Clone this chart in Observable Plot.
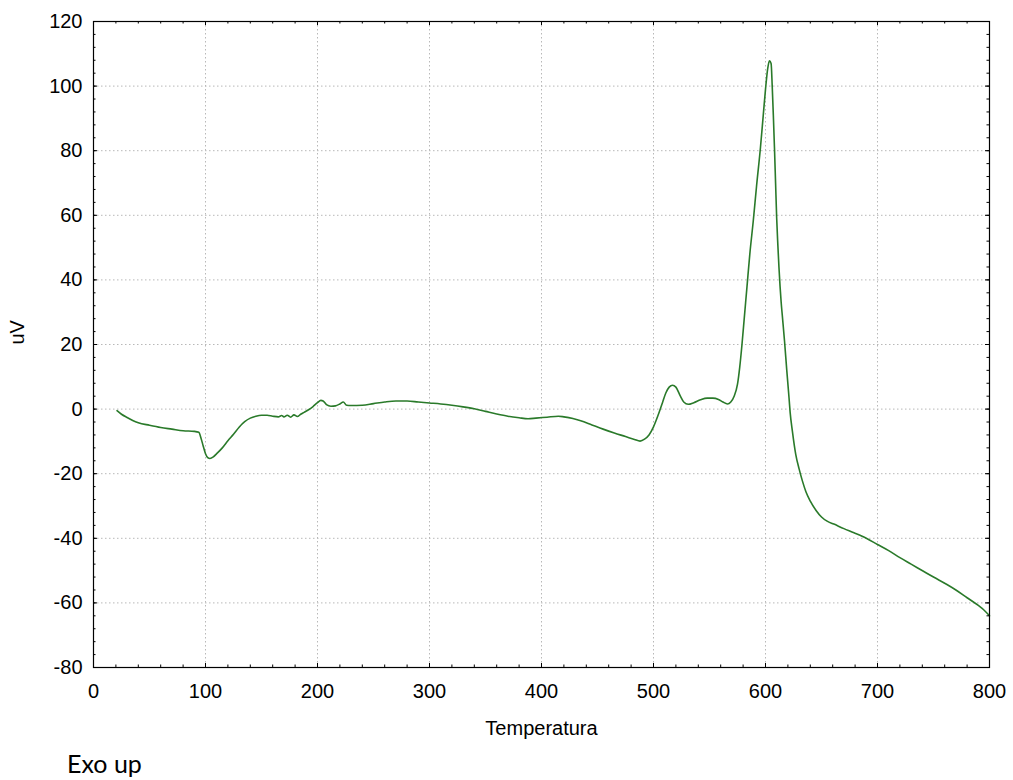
<!DOCTYPE html>
<html>
<head>
<meta charset="utf-8">
<script src="https://cdn.jsdelivr.net/npm/d3@7"></script>
<script src="https://cdn.jsdelivr.net/npm/@observablehq/plot@0.6"></script>
<style>
  html, body { margin: 0; padding: 0; background: #fff; }
  #caption { margin: 3px 0 0 67px; font-family: Lato, "Open Sans", sans-serif; font-size: 25px; line-height: 30px; color: #000; }
</style>
</head>
<body>
<div id="chart"></div>
<div id="caption">Exo up</div>
<script>
const temperature = [21,25,30,35,40,50,60,70,80,90,94,96,98,100,102,104,107,110,115,120,125,130,135,140,145,150,155,160,165,168,170,173,176,179,182,185,188,192,196,200,203,205,208,212,216,220,223,226,230,240,250,260,270,280,290,300,310,320,330,340,350,360,370,380,388,395,405,415,420,428,435,445,455,465,475,483,488,492,496,500,504,508,511,514,517,520,524,527,531,536,542,548,553,558,562,566,569,572,575,577,579,581,583.5,586,589,592,595.5,598,600,602,603.5,605,606,607,608,609,610,611,612,613,614,615,617,619,621,622,624,627,630,633,636,640,645,650,655,661,670,679,690,700,710,720,730,741,750,762,770,780,790,795,800];
const signal = [-0.5,-1.6,-2.6,-3.5,-4.2,-5.0,-5.7,-6.2,-6.7,-6.9,-7.2,-9,-11.5,-13.8,-15.0,-15.3,-14.8,-13.8,-12,-9.8,-7.8,-5.6,-3.9,-2.8,-2.2,-1.9,-1.9,-2.2,-2.4,-2.0,-2.4,-1.9,-2.5,-1.8,-2.3,-1.6,-1.0,-0.2,0.8,2.0,2.7,2.5,1.4,0.9,1.0,1.6,2.2,1.2,1.1,1.2,1.7,2.2,2.5,2.5,2.2,1.9,1.6,1.2,0.7,0.1,-0.7,-1.5,-2.2,-2.7,-3.0,-2.8,-2.5,-2.2,-2.4,-2.9,-3.6,-4.9,-6.2,-7.4,-8.5,-9.4,-9.9,-9.3,-8.0,-5.5,-2,2.0,5.0,6.8,7.4,6.8,4.0,2.2,1.5,2.0,2.9,3.4,3.4,3.0,2.2,1.6,2.2,4.0,7.7,13,20,28,38,48,58,69,81,91,99,105.5,107.8,107,100,91,81,70,59,51,44,38,33,29,21,12,3.5,-1,-6.8,-14,-18.5,-22.3,-25.5,-28.5,-31.3,-33.4,-34.7,-35.6,-37.0,-38.3,-40.0,-41.9,-43.8,-46.0,-48.0,-50.2,-52.0,-54.3,-56.0,-58.4,-60.8,-62.2,-64.0];
const xTicks = [0,100,200,300,400,500,600,700,800];
const yTicks = [-80,-60,-40,-20,0,20,40,60,80,100,120];
const xMinor = d3.range(0, 801, 20);
const yMinor = d3.range(-80, 121, 4);
const xLabel = "Temperatura";
const yLabel = "uV";

const data = temperature.map((t, i) => ({t, v: signal[i]}));

const W = 1013, H = 745;
const mL = 93, mR = 24, mT = 21, mB = 78;
const pw = W - mL - mR, ph = H - mT - mB;
const font = "'Liberation Sans', Arial, sans-serif";

const chart = Plot.plot({
  width: W, height: H,
  marginLeft: mL, marginRight: mR, marginTop: mT, marginBottom: mB,
  style: {fontFamily: font, fontSize: "20px", color: "#000", background: "#fff"},
  x: {domain: [0, 800]},
  y: {domain: [-80, 120]},
  marks: [
    Plot.gridX(xTicks, {stroke: "#b8b8b8", strokeOpacity: 1, strokeDasharray: "1.5,2.5"}),
    Plot.gridY(yTicks, {stroke: "#b8b8b8", strokeOpacity: 1, strokeDasharray: "1.5,2.5"}),
    Plot.line(data, {x: "t", y: "v", stroke: "#2a7a2a", strokeWidth: 1.6, curve: "monotone-x"}),
    Plot.frame({stroke: "#000", strokeWidth: 1.2}),
    Plot.tickX(xTicks, {x: d => d, stroke: "#000", insetTop: ph - 4}),
    Plot.tickX(xTicks, {x: d => d, stroke: "#000", insetBottom: ph - 4}),
    Plot.tickX(xMinor, {x: d => d, stroke: "#000", insetTop: ph - 2.5}),
    Plot.tickX(xMinor, {x: d => d, stroke: "#000", insetBottom: ph - 2.5}),
    Plot.tickY(yTicks, {y: d => d, stroke: "#000", insetRight: pw - 4}),
    Plot.tickY(yTicks, {y: d => d, stroke: "#000", insetLeft: pw - 4}),
    Plot.tickY(yMinor, {y: d => d, stroke: "#000", insetRight: pw - 2.5}),
    Plot.tickY(yMinor, {y: d => d, stroke: "#000", insetLeft: pw - 2.5}),
    Plot.axisX(xTicks, {tickSize: 0, tickPadding: 16, label: null, fontSize: 20, fill: "#000", tickFormat: d => String(d)}),
    Plot.axisY(yTicks, {tickSize: 0, tickPadding: 11, label: null, fontSize: 20, fill: "#000", tickFormat: d => String(d)}),
    Plot.text([xLabel], {frameAnchor: "bottom", dy: 67, text: d => d, fontSize: 20, fill: "#000"}),
    Plot.text([yLabel], {frameAnchor: "left", dx: -76, rotate: -90, text: d => d, fontSize: 20, fill: "#000"})
  ]
});
document.getElementById("chart").appendChild(chart);
</script>
</body>
</html>
